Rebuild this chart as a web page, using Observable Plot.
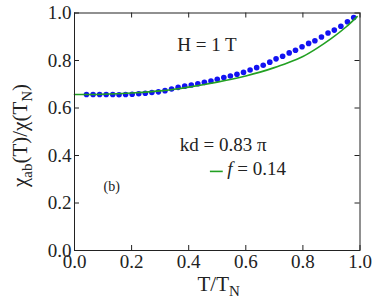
<!DOCTYPE html>
<html>
<head>
<meta charset="utf-8">
<script src="https://cdn.jsdelivr.net/npm/d3@7"></script>
<script src="https://cdn.jsdelivr.net/npm/@observablehq/plot@0.6"></script>
<style>
  html, body { margin: 0; padding: 0; background: #fff; }
  #chart { position: relative; width: 374px; height: 304px; font-family: 'Liberation Serif'; color: #222; }
  #chart svg { position: absolute; left: 0; top: 0; }
  .ttl { position: absolute; font-size: 21px; line-height: 21px; text-align: center; white-space: nowrap; z-index: 2; }
  .ttl sub { font-size: 15px; vertical-align: -5px; line-height: 0; }
  #xtitle { left: 168.7px; top: 274.4px; width: 100px; }
  #ytitle { left: -80px; top: 124.5px; width: 200px; transform: rotate(-90deg); transform-origin: 50% 50%; }
</style>
</head>
<body>
<div id="chart">
  <div class="ttl" id="xtitle">T/T<sub>N</sub></div>
  <div class="ttl" id="ytitle">&chi;<sub>ab</sub>(T)/&chi;(T<sub>N</sub>)</div>
</div>
<script>
const xTicks = [0, 0.2, 0.4, 0.6, 0.8, 1.0];
const yTicks = [0, 0.2, 0.4, 0.6, 0.8, 1.0];

// measured chi_ab(T)/chi(TN) points
const tData = [0.042, 0.065, 0.088, 0.111, 0.134, 0.156, 0.179, 0.202, 0.225, 0.248,
  0.271, 0.294, 0.317, 0.340, 0.363, 0.386, 0.409, 0.432, 0.455, 0.478,
  0.500, 0.523, 0.546, 0.569, 0.592, 0.615, 0.638, 0.661, 0.684, 0.706,
  0.729, 0.752, 0.774, 0.797, 0.820, 0.842, 0.865, 0.888, 0.910, 0.933,
  0.956, 0.978];
const chiData = [0.657, 0.657, 0.657, 0.657, 0.657, 0.656, 0.657, 0.658, 0.660, 0.662,
  0.665, 0.668, 0.673, 0.680, 0.687, 0.692, 0.697, 0.702, 0.708, 0.714,
  0.721, 0.728, 0.735, 0.742, 0.750, 0.760, 0.770, 0.780, 0.793, 0.807,
  0.818, 0.832, 0.843, 0.858, 0.872, 0.883, 0.899, 0.916, 0.928, 0.944,
  0.963, 0.981];

// fit curve (f = 0.14)
const fitT = [0.00, 0.05, 0.10, 0.15, 0.20, 0.25, 0.30, 0.35, 0.40, 0.45, 0.50,
  0.55, 0.60, 0.65, 0.70, 0.75, 0.80, 0.85, 0.90, 0.95, 0.99];
const fitChi = [0.657, 0.657, 0.658, 0.660, 0.663, 0.667, 0.672, 0.679, 0.688, 0.698, 0.709,
  0.721, 0.735, 0.751, 0.770, 0.792, 0.817, 0.852, 0.893, 0.940, 0.985];

// annotations
const annoText = ["H = 1 T", "kd = 0.83 \u03c0"];
const annoX = [0.464, 0.521];
const annoY = [0.838, 0.418];
const annoAnchor = ["middle", "start"];
const legendText = ["f = 0.14"];
const legendX = [0.535];
const legendY = [0.317];
const legendLineX1 = [0.476];
const legendLineX2 = [0.521];
const legendLineY = [0.333];
const panelText = ["(b)"];
const panelX = [0.102];
const panelY = [0.25];

const W = 374, H = 304;
const mL = 74, mR = 14.5, mT = 12.5, mB = 54;
const pw = W - mL - mR, ph = H - mT - mB;
const font = "Liberation Serif";
const blue = "#1212f2";
const green = "#22a022";
const ink = "#222";

const plot = Plot.plot({
  width: W, height: H,
  marginLeft: mL, marginRight: mR, marginTop: mT, marginBottom: mB,
  x: {domain: [0, 1]},
  y: {domain: [0, 1]},
  style: {fontFamily: font, fontSize: "19px", background: "transparent"},
  marks: [
    Plot.tickX(xTicks, {x: d => d, insetTop: ph - 5, stroke: ink}),
    Plot.tickX(xTicks, {x: d => d, insetBottom: ph - 5, stroke: ink}),
    Plot.tickY(yTicks, {y: d => d, insetRight: pw - 5, stroke: ink}),
    Plot.tickY(yTicks, {y: d => d, insetLeft: pw - 5, stroke: ink}),
    Plot.axisX({ticks: xTicks, tickSize: 0, tickPadding: 4, tickFormat: d3.format(".1f"), label: null, fill: ink}),
    Plot.axisY({ticks: yTicks, tickSize: 0, tickPadding: 3, tickFormat: d3.format(".1f"), label: null, fill: ink}),
    Plot.dot(tData, {x: tData, y: chiData, r: 2.8, fill: blue, stroke: "none"}),
    Plot.line(fitT, {x: fitT, y: fitChi, stroke: green, strokeWidth: 1.6, curve: "natural"}),
    Plot.text(annoText, {x: annoX, y: annoY, text: annoText, textAnchor: annoAnchor, lineAnchor: "bottom", fontSize: 19, fill: ink}),
    Plot.ruleY(legendLineY, {y: legendLineY, x1: legendLineX1, x2: legendLineX2, stroke: green, strokeWidth: 1.6}),
    Plot.text(legendText, {x: legendX, y: legendY, text: legendText, textAnchor: "start", lineAnchor: "bottom", fontSize: 19, fill: ink}),
    Plot.text(panelText, {x: panelX, y: panelY, text: panelText, textAnchor: "start", lineAnchor: "bottom", fontSize: 14, fill: ink}),
    Plot.frame({stroke: ink, strokeWidth: 1})
  ]
});

const svg = d3.select(plot);

// italic f in legend
svg.selectAll("text").filter(function() { return this.textContent === "f = 0.14"; })
  .each(function() {
    const t = d3.select(this);
    t.text(null);
    t.append("tspan").attr("font-style", "italic").text("f");
    t.append("tspan").text(" = 0.14");
  });

document.getElementById("chart").appendChild(plot);
</script>
</body>
</html>
